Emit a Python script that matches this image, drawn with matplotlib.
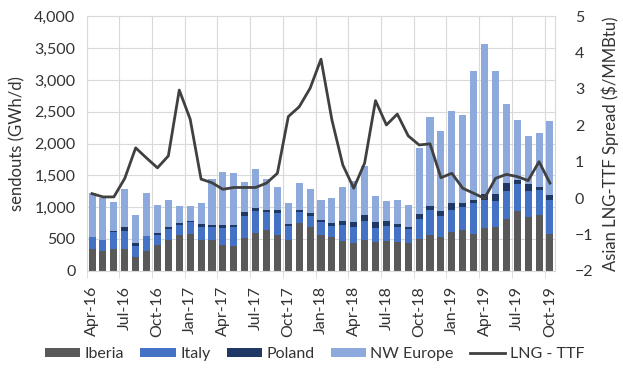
import matplotlib
matplotlib.use('Agg')
import matplotlib.pyplot as plt
import numpy as np
from matplotlib.ticker import FuncFormatter, FixedLocator

plt.rcParams['font.family'] = ['Lato', 'DejaVu Sans']

months = ['Apr-16', 'May-16', 'Jun-16', 'Jul-16', 'Aug-16', 'Sep-16', 'Oct-16', 'Nov-16', 'Dec-16',
          'Jan-17', 'Feb-17', 'Mar-17', 'Apr-17', 'May-17', 'Jun-17', 'Jul-17', 'Aug-17', 'Sep-17',
          'Oct-17', 'Nov-17', 'Dec-17', 'Jan-18', 'Feb-18', 'Mar-18', 'Apr-18', 'May-18', 'Jun-18',
          'Jul-18', 'Aug-18', 'Sep-18', 'Oct-18', 'Nov-18', 'Dec-18', 'Jan-19', 'Feb-19', 'Mar-19',
          'Apr-19', 'May-19', 'Jun-19', 'Jul-19', 'Aug-19', 'Sep-19', 'Oct-19']

# sendouts, GWh/d
iberia = [335, 314, 345, 345, 222, 314, 402, 490, 557,
          583, 490, 490, 402, 387, 521, 598, 634, 557,
          479, 747, 680, 557, 531, 464, 438, 490, 454,
          464, 454, 428, 495, 567, 531, 608, 634, 583,
          665, 680, 820, 933, 851, 871, 583]
italy = [196, 165, 263, 284, 165, 227, 155, 170, 154,
         175, 196, 190, 268, 293, 345, 335, 289, 355,
         217, 181, 186, 216, 165, 258, 248, 288, 211,
         242, 232, 227, 314, 387, 335, 351, 371, 474,
         443, 423, 433, 438, 407, 397, 530]
poland = [0, 0, 16, 57, 51, 0, 36, 26, 36,
          31, 41, 42, 41, 42, 62, 46, 36, 47,
          31, 31, 41, 26, 51, 56, 82, 93, 93,
          72, 56, 31, 83, 56, 77, 98, 67, 62,
          93, 108, 129, 62, 98, 52, 73]
nw_europe = [695, 671, 464, 603, 438, 676, 443, 422, 269,
             221, 330, 727, 846, 814, 464, 614, 490, 361,
             330, 417, 382, 309, 397, 542, 639, 779, 417,
             320, 377, 350, 1041, 1413, 1248, 1448, 1382, 2020,
             2356, 1928, 1237, 938, 758, 850, 1165]
# Asian LNG - TTF spread, $/MMBtu
lng_ttf = [0.12, 0.03, 0.03, 0.54, 1.38, 1.10, 0.83, 1.16, 2.97,
           2.17, 0.52, 0.42, 0.24, 0.29, 0.29, 0.29, 0.41, 0.68,
           2.24, 2.51, 3.02, 3.82, 2.15, 0.91, 0.27, 0.96, 2.68,
           2.01, 2.31, 1.71, 1.46, 1.49, 0.56, 0.68, 0.27, 0.13,
           -0.01, 0.54, 0.65, 0.59, 0.48, 1.00, 0.41]

text_col = '#333333'
grid_col = '#D9D9D9'

fig = plt.figure(figsize=(6.23, 3.68), dpi=100)
ax = fig.add_axes([0.139, 0.2644, 0.7525, 0.6913])

x = np.arange(len(months))
w = 0.65
b = np.zeros(len(months))
series = [('Iberia', iberia, '#595959'), ('Italy', italy, '#4472C4'),
          ('Poland', poland, '#1F3864'), ('NW Europe', nw_europe, '#8EA9DB')]
handles = []
for name, vals, col in series:
    vals = np.array(vals, dtype=float)
    h = ax.bar(x, vals, w, bottom=b, color=col, label=name, zorder=2)
    handles.append(h)
    b += vals

ax.set_xlim(-0.5, len(months) - 0.5)
ax.set_ylim(0, 4000)
ax.set_yticks(np.arange(0, 4001, 500))
ax.yaxis.set_major_formatter(FuncFormatter(lambda v, p: f'{int(v):,}'))
ax.set_xticks(x[::3])
ax.set_xticklabels(months[::3], rotation=90)
ax.xaxis.set_minor_locator(FixedLocator(np.arange(-0.5, len(months), 3)))
ax.tick_params(axis='x', which='major', length=0, pad=11)
ax.tick_params(axis='x', which='minor', length=5, color=grid_col)
ax.tick_params(axis='y', length=0, pad=8)
ax.tick_params(labelsize=11.5, labelcolor=text_col)
ax.grid(axis='y', which='major', color=grid_col, lw=0.8, zorder=0)
ax.grid(axis='x', which='minor', color=grid_col, lw=0.8, zorder=0)
ax.set_axisbelow(True)
for s in ax.spines.values():
    s.set_color(grid_col)
    s.set_linewidth(0.8)
ax.set_ylabel('sendouts (GWh/d)', fontsize=12, color=text_col, labelpad=6)

ax2 = ax.twinx()
line, = ax2.plot(x, lng_ttf, color='#404040', lw=2, label='LNG - TTF', zorder=3)
ax2.set_ylim(-2, 5)
ax2.set_yticks(np.arange(-2, 6, 1))
ax2.tick_params(axis='y', length=0, pad=14, labelsize=11.5, labelcolor=text_col)
for s in ax2.spines.values():
    s.set_visible(False)
ax2.set_ylabel('Asian LNG-TTF Spread ($/MMBtu)', fontsize=12, color=text_col, labelpad=6)

fig.legend(handles + [line], [s[0] for s in series] + ['LNG - TTF'],
           loc='lower center', bbox_to_anchor=(0.505, -0.02), ncol=5, frameon=False,
           fontsize=11.5, handlelength=2.2, handleheight=0.55, handletextpad=0.3,
           columnspacing=1.0, labelcolor=text_col)

fig.savefig('out.png', dpi=100)
